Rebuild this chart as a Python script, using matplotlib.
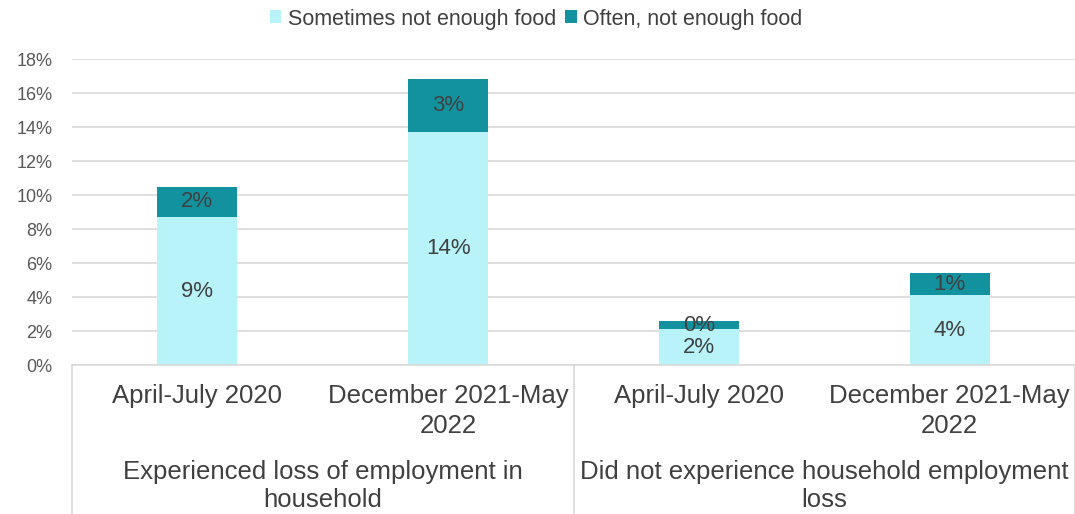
import numpy as np
import matplotlib
matplotlib.use("Agg")
import matplotlib.pyplot as plt

plt.rcParams['font.family'] = ['Liberation Sans', 'DejaVu Sans']

periods = ["April-July 2020", "December 2021-May\n2022",
           "April-July 2020", "December 2021-May\n2022"]
groups = ["Experienced loss of employment in\nhousehold",
          "Did not experience household employment\nloss"]
sometimes = [8.7, 13.7, 2.1, 4.1]
often = [1.8, 3.1, 0.5, 1.3]

light = '#B8F3FA'
dark = '#12929F'
txt = '#404040'

fig = plt.figure(figsize=(10.75, 5.14), dpi=100)
ax = fig.add_axes([72 / 1075, 149 / 514, 1003 / 1075, 306 / 514])

x = np.arange(len(periods))
w = 0.32
b1 = ax.bar(x, sometimes, w, color=light, label='Sometimes not enough food', zorder=2)
b2 = ax.bar(x, often, w, bottom=sometimes, color=dark, label='Often, not enough food', zorder=2)

for i in range(len(x)):
    ax.text(x[i], sometimes[i] / 2, f"{sometimes[i]:.0f}%", ha='center', va='center',
            fontsize=16, color=txt, zorder=3)
    ax.text(x[i], sometimes[i] + often[i] / 2, f"{often[i]:.0f}%", ha='center', va='center',
            fontsize=16, color=txt, zorder=3)

ax.set_xlim(-0.5, 3.5)
ax.set_ylim(0, 18)
ax.set_yticks(np.arange(0, 19, 2))
ax.set_yticklabels([f"{v}%" for v in range(0, 19, 2)])
ax.yaxis.grid(True, color='#D9D9D9', linewidth=1.2, zorder=0)
ax.set_axisbelow(True)
for s in ['top', 'right', 'left']:
    ax.spines[s].set_visible(False)
ax.spines['bottom'].set_color('#D9D9D9')
ax.spines['bottom'].set_linewidth(1.2)
ax.tick_params(axis='y', length=0, pad=14, labelsize=13, labelcolor='#595959')
ax.tick_params(axis='x', length=0, pad=14)
ax.set_xticks(x)
ax.set_xticklabels(periods, fontsize=18.5, color='#404040', linespacing=1.3)

# group labels and separators
trans = ax.get_xaxis_transform()
for gi, g in enumerate(groups):
    ax.text(gi * 2 + 0.5, -0.31, g, transform=trans, ha='center', va='top',
            fontsize=18.5, color='#404040', linespacing=1.2)
for xv in [-0.5, 1.5, 3.5]:
    ax.plot([xv, xv], [0, -0.49], transform=trans, color='#D9D9D9',
            linewidth=1.2, clip_on=False)

fig.legend(handles=[b1, b2], loc='center', bbox_to_anchor=(536 / 1075, 1 - 19 / 514),
           ncol=2, frameon=False, fontsize=15.5, handlelength=0.55, handleheight=0.55,
           handletextpad=0.3, columnspacing=0.4, labelcolor='#404040')

fig.savefig('out.png', dpi=100)
